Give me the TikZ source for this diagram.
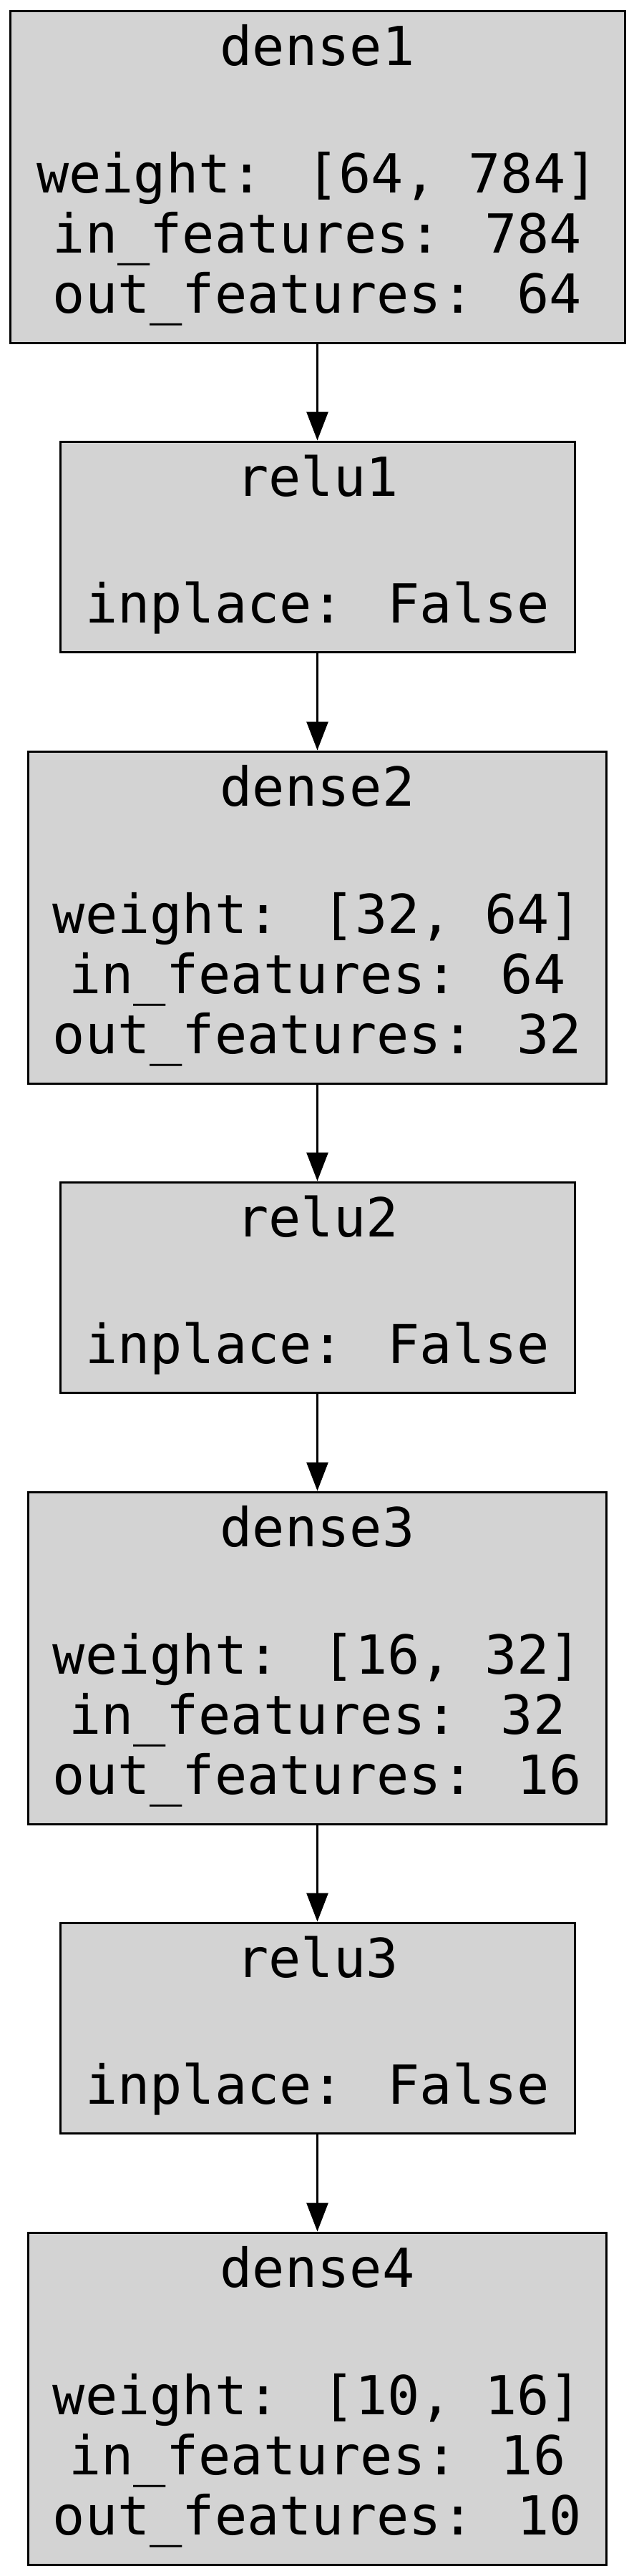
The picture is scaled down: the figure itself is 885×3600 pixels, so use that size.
\documentclass[tikz,border=0pt]{standalone}
\usepackage{fontspec}
\newfontfamily\dmono{DejaVu Sans Mono}
\usetikzlibrary{arrows.meta}
\definecolor{boxgray}{HTML}{D3D3D3}
\begin{document}
\begin{tikzpicture}[x=0.5pt,y=-0.5pt,
  layer/.style={draw=black, fill=boxgray, line width=1.5pt, inner sep=0pt, minimum height=232pt},
  densebox/.style={layer, minimum width=404pt},
  relubox/.style={layer, minimum width=359.5pt, minimum height=147pt},
  lbl/.style={font=\dmono\fontsize{37.6}{45}\selectfont, inner sep=0pt, anchor=base},
  edge/.style={line width=1.5pt, -{Triangle[length=20pt,width=15pt]}}]
\useasboundingbox (0,0) rectangle (885,3600);

\node[densebox, minimum width=429.5pt] (d1) at (443.5,247) {};
\node[relubox] (r1) at (443.5,764) {};
\node[densebox] (d2) at (443.5,1282) {};
\node[relubox] (r2) at (443.5,1799) {};
\node[densebox] (d3) at (443.5,2317) {};
\node[relubox] (r3) at (443.5,2834) {};
\node[densebox] (d4) at (443.5,3352) {};

% dense1
\node[lbl] (d1a) at ([yshift=-38.75pt]d1.north) {dense1};
\node[lbl] (d1b) at ([yshift=-127.75pt]d1.north) {weight: [64, 784]};
\node[lbl] (d1c) at ([yshift=-170pt]d1.north) {in\_features: 784};
\node[lbl] (d1d) at ([yshift=-212pt]d1.north) {out\_features: 64};
% relu1
\node[lbl] (r1a) at ([yshift=-38.75pt]r1.north) {relu1};
\node[lbl] (r1b) at ([yshift=-127.25pt]r1.north) {inplace: False};
% dense2
\node[lbl] (d2a) at ([yshift=-38.75pt]d2.north) {dense2};
\node[lbl] (d2b) at ([yshift=-127.75pt]d2.north) {weight: [32, 64]};
\node[lbl] (d2c) at ([yshift=-170pt]d2.north) {in\_features: 64};
\node[lbl] (d2d) at ([yshift=-212pt]d2.north) {out\_features: 32};
% relu2
\node[lbl] (r2a) at ([yshift=-38.75pt]r2.north) {relu2};
\node[lbl] (r2b) at ([yshift=-127.25pt]r2.north) {inplace: False};
% dense3
\node[lbl] (d3a) at ([yshift=-38.75pt]d3.north) {dense3};
\node[lbl] (d3b) at ([yshift=-127.75pt]d3.north) {weight: [16, 32]};
\node[lbl] (d3c) at ([yshift=-170pt]d3.north) {in\_features: 32};
\node[lbl] (d3d) at ([yshift=-212pt]d3.north) {out\_features: 16};
% relu3
\node[lbl] (r3a) at ([yshift=-38.75pt]r3.north) {relu3};
\node[lbl] (r3b) at ([yshift=-127.25pt]r3.north) {inplace: False};
% dense4
\node[lbl] (d4a) at ([yshift=-38.75pt]d4.north) {dense4};
\node[lbl] (d4b) at ([yshift=-127.75pt]d4.north) {weight: [10, 16]};
\node[lbl] (d4c) at ([yshift=-170pt]d4.north) {in\_features: 16};
\node[lbl] (d4d) at ([yshift=-212pt]d4.north) {out\_features: 10};

\draw[edge] (d1.south) -- (r1.north);
\draw[edge] (r1.south) -- (d2.north);
\draw[edge] (d2.south) -- (r2.north);
\draw[edge] (r2.south) -- (d3.north);
\draw[edge] (d3.south) -- (r3.north);
\draw[edge] (r3.south) -- (d4.north);
\end{tikzpicture}
\end{document}
